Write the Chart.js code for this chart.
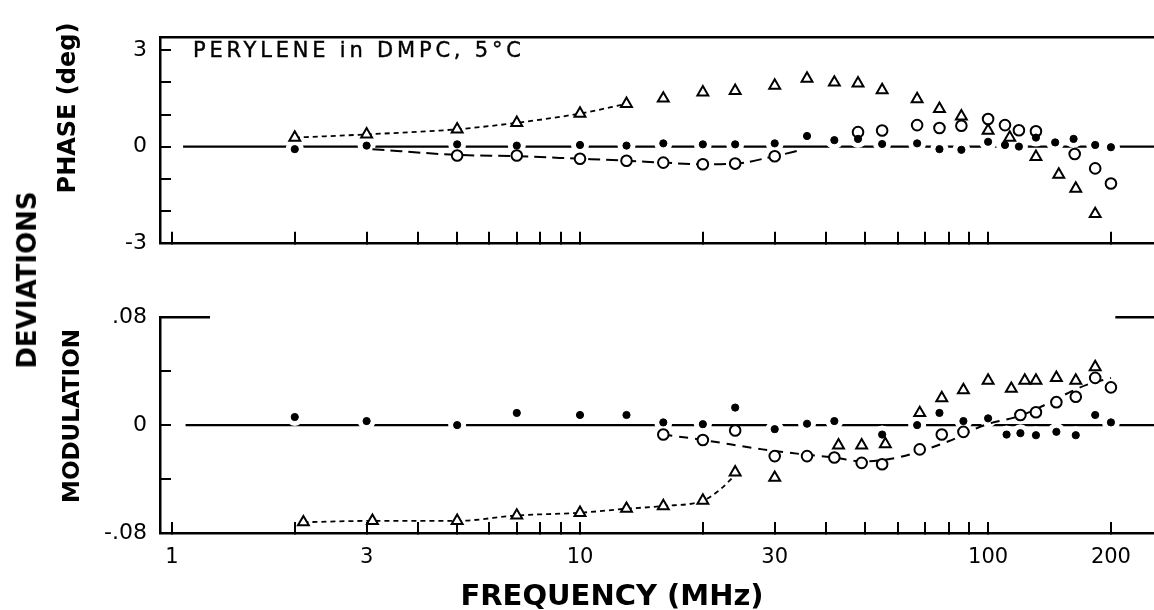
<!DOCTYPE html>
<html>
<head>
<meta charset="utf-8">
<script src="https://cdn.jsdelivr.net/npm/chart.js@4.4.0/dist/chart.umd.min.js"></script>
<style>
  body { margin: 0; background: #fff; }
  #wrap { position: relative; width: 1154px; height: 610px; overflow: hidden; font-family: "DejaVu Sans", sans-serif; color: #000; }
  #phase { position: absolute; left: 0; top: 0; }
  #mod { position: absolute; left: 0; top: 280px; }
  .lbl { position: absolute; white-space: nowrap; line-height: 1.16; }
  .rot { transform: translate(-50%, -50%) rotate(-90deg); font-weight: bold; }
</style>
</head>
<body>
<div id="wrap">
  <canvas id="phase" width="1154" height="280"></canvas>
  <canvas id="mod" width="1154" height="330"></canvas>
  <div class="lbl rot" style="left:27px; top:280px; font-size:26px;">DEVIATIONS</div>
  <div class="lbl rot" style="left:68px; top:108px; font-size:24px;">PHASE (deg)</div>
  <div class="lbl rot" style="left:71px; top:416px; font-size:23px;">MODULATION</div>
  <div class="lbl" style="left:193px; top:38px; font-size:21px; letter-spacing:3.8px; -webkit-text-stroke:0.4px #000;">PERYLENE in DMPC, 5°C</div>
  <div class="lbl" style="left:612px; top:596px; transform: translate(-50%,-50%); font-size:29px; font-weight:bold;">FREQUENCY (MHz)</div>
</div>
<script>
// axis range and ticks (MHz, log scale)
const xMin = 0.935, xMax = 255;
const freqTicks = [1, 2, 3, 4, 5, 6, 7, 8, 9, 10, 20, 30, 40, 50, 60, 70, 80, 90, 100, 200];
const freqTickLabels = ['1', '', '3', '', '', '', '', '', '', '10', '', '30', '', '', '', '', '', '', '100', '200'];
const phaseTicks = [-3, -2, -1, 0, 1, 2, 3];
const phaseTickLabels = ['-3', '', '', '0', '', '', '3'];
const modTicks = [-0.08, -0.04, 0, 0.04, 0.08];
const modTickLabels = ['-.08', '', '0', '', '.08'];

// phase deviations (deg)
const phaseFilledF = [2, 3, 5, 7, 10, 13, 16, 20, 24, 30, 36, 42, 48, 55, 67, 76, 86, 100, 110, 119, 131, 146, 162, 183, 200];
const phaseFilledV = [-0.08, 0.03, 0.07, 0.03, 0.05, 0.03, 0.1, 0.07, 0.07, 0.1, 0.33, 0.2, 0.24, 0.08, 0.1, -0.08, -0.1, 0.15, 0.05, 0.0, 0.28, 0.13, 0.24, 0.05, -0.02];
const phaseOpenF = [5, 7, 10, 13, 16, 20, 24, 30, 48, 55, 67, 76, 86, 100, 110, 119, 131, 163, 183, 200];
const phaseOpenV = [-0.28, -0.28, -0.38, -0.44, -0.5, -0.55, -0.53, -0.3, 0.45, 0.5, 0.67, 0.58, 0.65, 0.86, 0.67, 0.51, 0.48, -0.23, -0.68, -1.15];
const phaseTriF = [2, 3, 5, 7, 10, 13, 16, 20, 24, 30, 36, 42, 48, 55, 67, 76, 86, 100, 113, 131, 149, 164, 183];
const phaseTriV = [0.28, 0.38, 0.54, 0.74, 1.03, 1.33, 1.5, 1.69, 1.74, 1.9, 2.12, 2.0, 1.97, 1.76, 1.48, 1.18, 0.94, 0.5, 0.28, -0.32, -0.87, -1.31, -2.1];
const phaseTriFitF = [2, 3, 5, 7, 10, 13];
const phaseTriFitV = [0.28, 0.38, 0.54, 0.74, 1.03, 1.33];
const phaseOpenFitF = [3.1, 5, 7, 10, 13, 16, 20, 24, 30, 35];
const phaseOpenFitV = [-0.08, -0.26, -0.3, -0.38, -0.44, -0.5, -0.55, -0.53, -0.3, -0.1];

// modulation deviations
const modFilledF = [2, 3, 5, 7, 10, 13, 16, 20, 24, 30, 36, 42, 55, 67, 76, 87, 100, 111, 120, 131, 147, 164, 183, 200];
const modFilledV = [0.006, 0.003, 0.0, 0.009, 0.0075, 0.0075, 0.002, 0.0007, 0.013, -0.003, 0.001, 0.003, -0.007, 0.0, 0.009, 0.003, 0.005, -0.007, -0.006, -0.0075, -0.005, -0.0075, 0.0075, 0.002];
const modOpenF = [16, 20, 24, 30, 36, 42, 49, 55, 68, 77, 87, 120, 131, 147, 164, 183, 200];
const modOpenV = [-0.007, -0.011, -0.004, -0.023, -0.023, -0.024, -0.028, -0.029, -0.018, -0.007, -0.005, 0.0075, 0.0095, 0.017, 0.021, 0.035, 0.028];
const modTriF = [2.1, 3.1, 5, 7, 10, 13, 16, 20, 24, 30, 43, 49, 56, 68, 77, 87, 100, 114, 123, 131, 147, 164, 183];
const modTriV = [-0.072, -0.071, -0.071, -0.067, -0.065, -0.062, -0.06, -0.056, -0.035, -0.039, -0.015, -0.015, -0.014, 0.009, 0.02, 0.026, 0.033, 0.027, 0.033, 0.033, 0.035, 0.033, 0.043];
const modTriFitF = [2.1, 3.1, 5, 7, 10, 13, 16, 20, 22, 24];
const modTriFitV = [-0.072, -0.071, -0.071, -0.067, -0.065, -0.062, -0.06, -0.056, -0.048, -0.037];
const modOpenFitF = [16, 20, 28, 36, 42, 49, 60, 80, 98, 120, 140, 160, 175, 200];
const modOpenFitV = [-0.007, -0.011, -0.018, -0.022, -0.024, -0.027, -0.024, -0.012, 0.0, 0.007, 0.016, 0.025, 0.03, 0.035];

// the lower frame only has short pieces of its top edge
const modTopEdges = [[xMin, 1.24], [205, xMax]];

Chart.defaults.font.family = '"DejaVu Sans", sans-serif';
Chart.defaults.color = '#000';

function pts(xs, ys) {
  return xs.map((x, i) => ({ x: x, y: ys[i] }));
}

const partialTop = {
  id: 'partialTop',
  afterDraw(chart, args, opts) {
    if (!opts.spans) return;
    const ctx = chart.ctx, xs = chart.scales.x, top = chart.chartArea.top;
    ctx.save();
    ctx.strokeStyle = '#000';
    ctx.lineWidth = 2.5;
    opts.spans.forEach(s => {
      ctx.beginPath();
      ctx.moveTo(xs.getPixelForValue(s[0]), top);
      ctx.lineTo(xs.getPixelForValue(s[1]), top);
      ctx.stroke();
    });
    ctx.restore();
  }
};

function makePanel(id, o) {
  const scales = {
    x: {
      type: 'logarithmic', position: 'bottom', min: xMin, max: xMax,
      afterBuildTicks: s => { s.ticks = freqTicks.map(v => ({ value: v })); },
      afterFit: s => { s.height = o.xHeight; },
      ticks: {
        display: o.xLabels, autoSkip: false, maxRotation: 0, padding: 23,
        font: { size: 21 }, color: '#000',
        callback: (v, i) => freqTickLabels[i]
      },
      grid: { drawOnChartArea: false, drawTicks: true, tickLength: -11, color: '#000', lineWidth: 2 },
      border: { display: true, color: '#000', width: 2.5 }
    },
    y: {
      type: 'linear', min: o.yMin, max: o.yMax,
      afterBuildTicks: s => { s.ticks = o.yTicks.map(v => ({ value: v })); },
      afterFit: s => { s.width = 160; },
      ticks: {
        autoSkip: false, padding: 24, font: { size: 22 }, color: '#000',
        callback: (v, i) => o.yTickLabels[i]
      },
      grid: { drawOnChartArea: false, drawTicks: true, tickLength: -11, color: '#000', lineWidth: 2 },
      border: { display: true, color: '#000', width: 2.5 }
    }
  };
  if (o.fullTop) {
    scales.xTop = {
      type: 'logarithmic', position: 'top', min: xMin, max: xMax,
      ticks: { display: false }, grid: { display: false },
      border: { display: true, color: '#000', width: 2.5 },
      afterFit: s => { s.height = 0; }
    };
  }

  return new Chart(document.getElementById(id), {
    type: 'scatter',
    data: {
      datasets: [
        // zero reference line
        { data: [{ x: o.zeroFrom, y: 0 }, { x: xMax, y: 0 }], showLine: true, borderColor: '#000', borderWidth: 2.2, pointRadius: 0, order: 6 },
        // white halo so the line breaks around the filled points
        { data: pts(o.filledF, o.filledV), pointRadius: 9, pointBackgroundColor: '#fff', pointBorderWidth: 0, order: 5 },
        { data: pts(o.triFitF, o.triFitV), showLine: true, borderColor: '#000', borderWidth: 1.8, borderDash: [5, 4], pointRadius: 0, cubicInterpolationMode: 'monotone', order: 4 },
        { data: pts(o.openFitF, o.openFitV), showLine: true, borderColor: '#000', borderWidth: 2, borderDash: o.openDash, pointRadius: 0, cubicInterpolationMode: 'monotone', order: 4 },
        { data: pts(o.triF, o.triV), pointStyle: 'triangle', pointRadius: 6.3, pointBackgroundColor: '#fff', pointBorderColor: '#000', pointBorderWidth: 2, order: 3 },
        { data: pts(o.openF, o.openV), pointStyle: 'circle', pointRadius: 5.3, pointBackgroundColor: '#fff', pointBorderColor: '#000', pointBorderWidth: 2, order: 2 },
        { data: pts(o.filledF, o.filledV), pointStyle: 'circle', pointRadius: 3.6, pointBackgroundColor: '#000', pointBorderColor: '#000', pointBorderWidth: 1, order: 1 }
      ]
    },
    options: {
      responsive: false,
      animation: false,
      events: [],
      layout: { autoPadding: false, padding: { top: o.padTop, left: 0, right: 0, bottom: 0 } },
      plugins: {
        legend: { display: false },
        tooltip: { enabled: false },
        partialTop: { spans: o.topSpans }
      },
      scales: scales
    },
    plugins: [partialTop]
  });
}

makePanel('phase', {
  yMin: -3, yMax: 3.41, yTicks: phaseTicks, yTickLabels: phaseTickLabels,
  padTop: 13, xHeight: 15, xLabels: false, fullTop: true, topSpans: null,
  zeroFrom: 1.065,
  filledF: phaseFilledF, filledV: phaseFilledV,
  openF: phaseOpenF, openV: phaseOpenV,
  triF: phaseTriF, triV: phaseTriV,
  triFitF: phaseTriFitF, triFitV: phaseTriFitV,
  openFitF: phaseOpenFitF, openFitV: phaseOpenFitV, openDash: [12, 6]
});

makePanel('mod', {
  yMin: -0.08, yMax: 0.08, yTicks: modTicks, yTickLabels: modTickLabels,
  padTop: 18, xHeight: 77, xLabels: true, fullTop: false, topSpans: modTopEdges,
  zeroFrom: 1.08,
  filledF: modFilledF, filledV: modFilledV,
  openF: modOpenF, openV: modOpenV,
  triF: modTriF, triV: modTriV,
  triFitF: modTriFitF, triFitV: modTriFitV,
  openFitF: modOpenFitF, openFitV: modOpenFitV, openDash: [9, 7]
});
</script>
</body>
</html>
